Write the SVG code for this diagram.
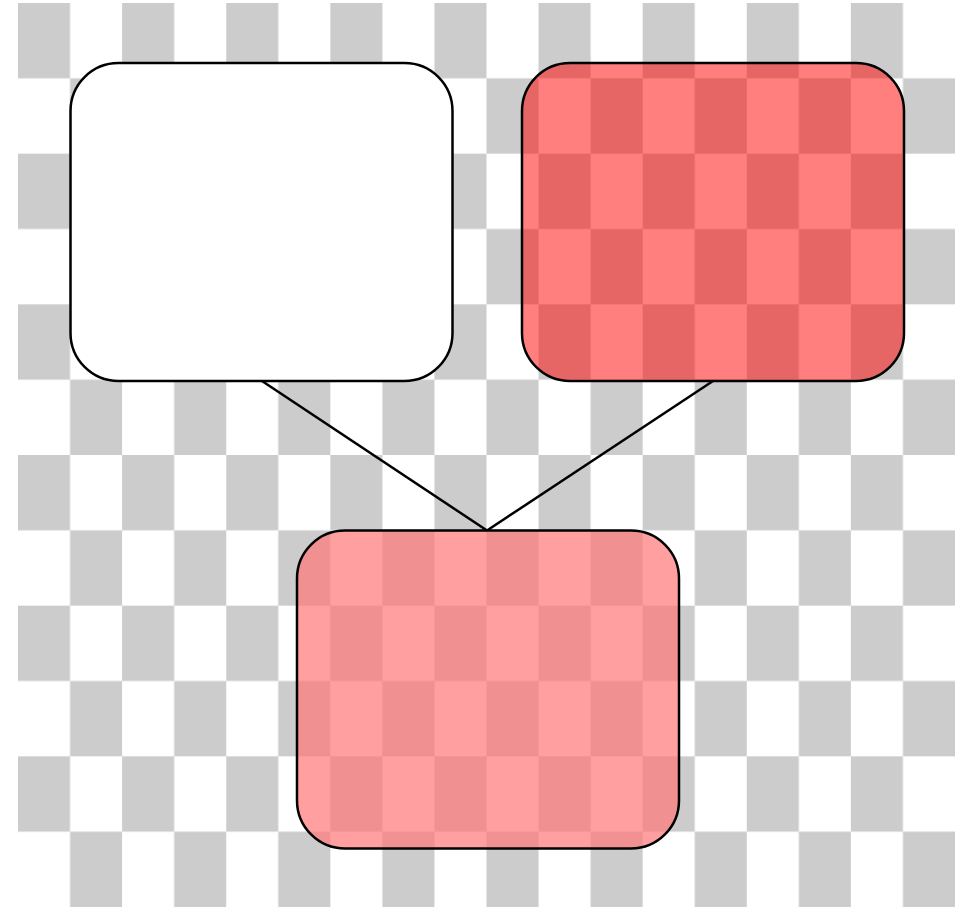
<svg xmlns="http://www.w3.org/2000/svg" width="960" height="907" viewBox="0 0 960 907">
  <style>
    .node { stroke: #000; stroke-width: 2.5; }
    .edge { stroke: #000; stroke-width: 2.5; fill: none; }
  </style>
  <defs>
    <pattern id="checker" patternUnits="userSpaceOnUse" x="18" y="3" width="104.111" height="150.667">
      <rect x="0" y="0" width="52.056" height="75.333" fill="#cccccc"/>
      <rect x="52.056" y="75.333" width="52.056" height="75.333" fill="#cccccc"/>
    </pattern>
  </defs>
  <rect x="0" y="0" width="960" height="907" fill="#ffffff"/>
  <rect id="background" x="18" y="3" width="937" height="904" fill="url(#checker)"/>
  <g id="connectors">
    <line class="edge" x1="262" y1="381" x2="487" y2="530.5"/>
    <line class="edge" x1="713" y1="381" x2="487" y2="530.5"/>
  </g>
  <g id="node-a">
    <rect class="node" x="70.5" y="63" width="382" height="318" rx="48" ry="48" fill="#ffffff"/>
  </g>
  <g id="node-b">
    <rect class="node" x="522" y="63" width="382" height="318" rx="48" ry="48" fill="#ff0000" fill-opacity="0.5"/>
  </g>
  <g id="node-c">
    <rect class="node" x="297" y="530.5" width="382" height="318" rx="48" ry="48" fill="rgb(255,118,118)" fill-opacity="0.7"/>
  </g>
</svg>
